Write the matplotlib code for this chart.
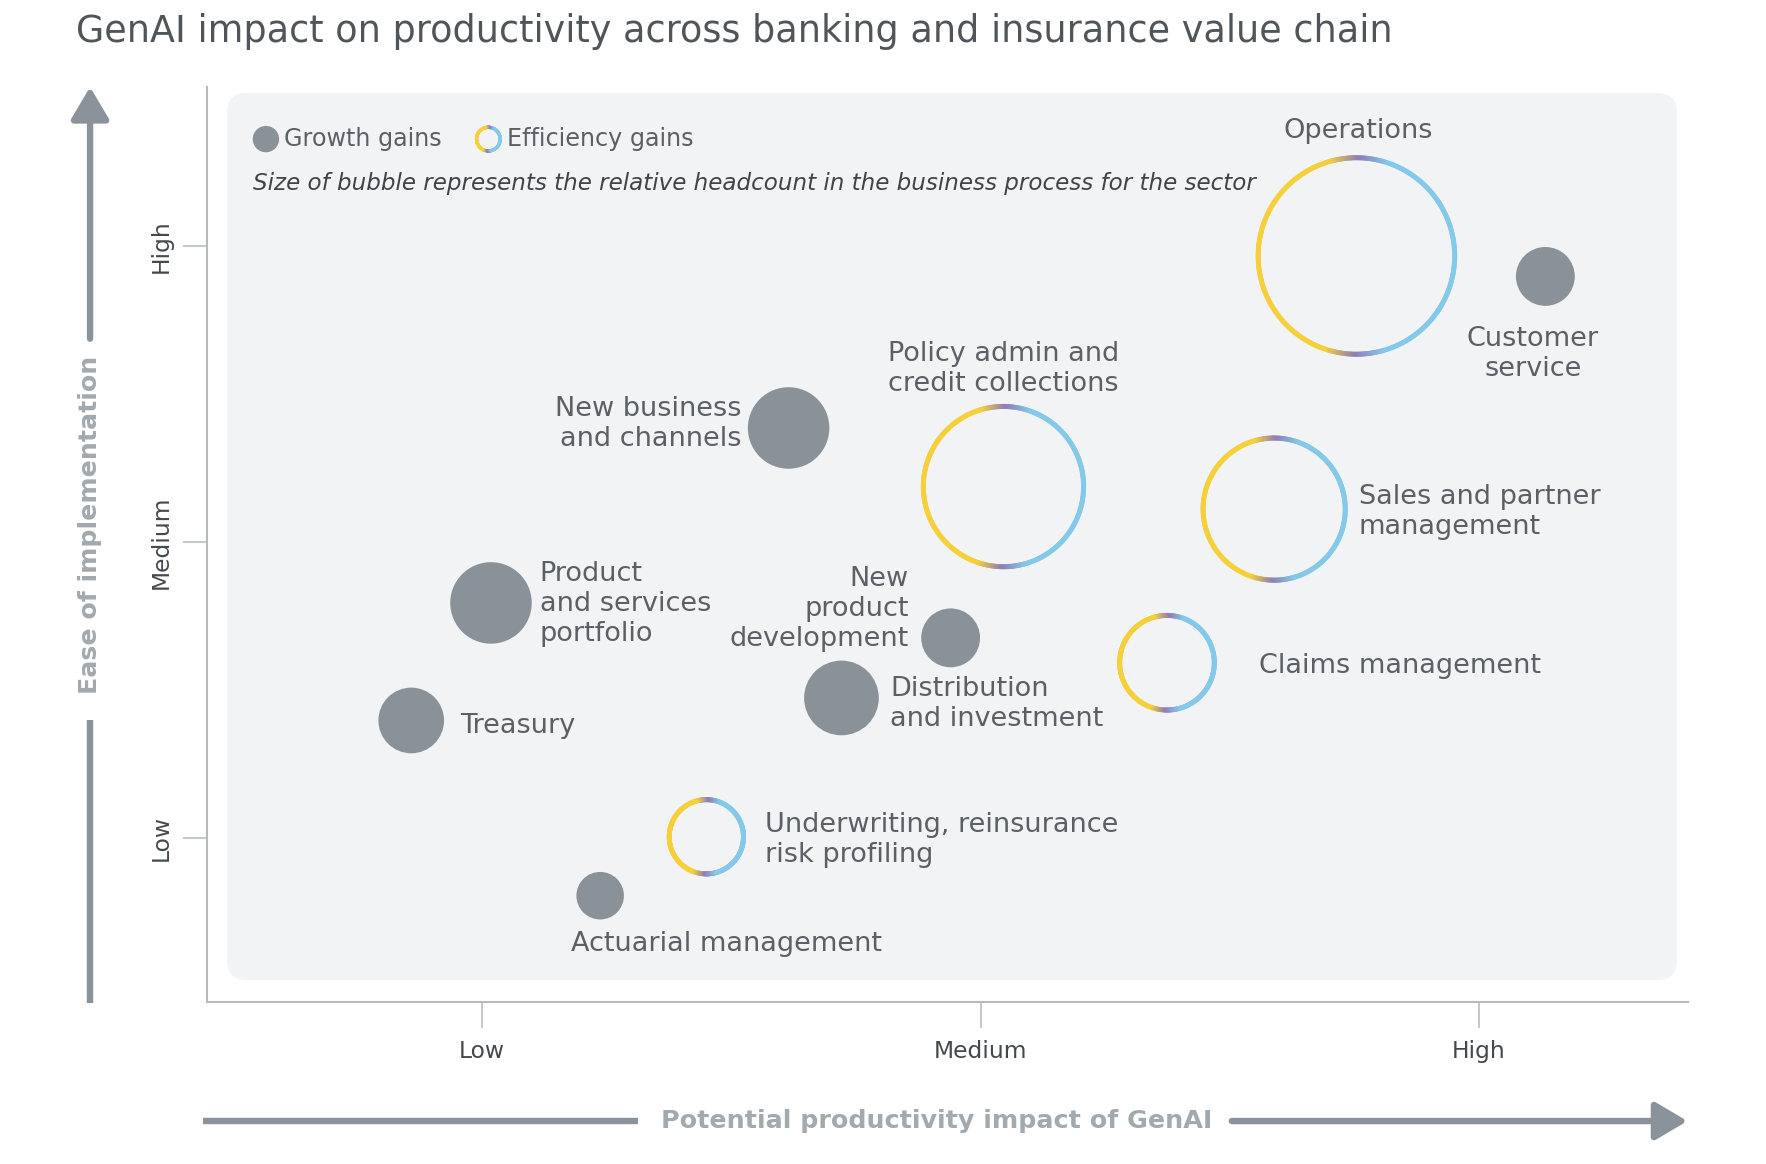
import numpy as np
import matplotlib
matplotlib.use("Agg")
import matplotlib.pyplot as plt
import matplotlib.transforms as mtransforms
from matplotlib.collections import LineCollection
from matplotlib.patches import FancyBboxPatch
from matplotlib.colors import to_rgb

# data: position on the two axes (1=Low, 2=Medium, 3=High), relative bubble size, type
processes = ["Operations", "Customer\nservice", "New business\nand channels",
             "Policy admin and\ncredit collections", "Sales and partner\nmanagement",
             "Product\nand services\nportfolio", "New\nproduct\ndevelopment",
             "Claims management", "Distribution\nand investment", "Treasury",
             "Underwriting, reinsurance\nrisk profiling", "Actuarial management"]
impact = [2.754, 3.133, 1.615, 2.046, 2.589, 1.018, 1.940, 2.374, 1.721, 0.858, 1.450, 1.237]
ease = [2.966, 2.897, 2.385, 2.187, 2.111, 1.794, 1.676, 1.592, 1.473, 1.397, 1.004, 0.805]
headcount = [89, 26, 36, 73, 65, 36, 26, 44, 33, 29, 35, 21]
gain_type = ["efficiency", "growth", "growth", "efficiency", "efficiency", "growth",
             "growth", "efficiency", "growth", "growth", "efficiency", "growth"]
tick_labels = ["Low", "Medium", "High"]

# label placement: offset from bubble centre (points), horizontal alignment
label_offsets = [(1.5, 90, "center"), (-9, -56, "center"), (-34, 3, "right"),
                 (0, 85, "center"), (61, -2, "left"), (35, -1, "left"),
                 (-30, 21, "right"), (66, -2, "left"), (35, -4.5, "left"),
                 (35, -4, "left"), (42, -2, "left"), (91, -35, "center")]

GRAY = "#8a9299"
TEXT = "#5b6066"
AXLAB = "#a2a9af"
YELLOW = to_rgb("#f5d03a")
BLUE = to_rgb("#84c8ea")
PURPLE = to_rgb("#8e7db6")

plt.rcParams["font.family"] = ["DejaVu Sans"]

fig = plt.figure(figsize=(17.66, 11.64), dpi=100)
ax_rect = [0.1172, 0.1392, 0.8386, 0.7861]
ax = fig.add_axes(ax_rect)
ax.set_xlim(0.4483, 3.419)
ax.set_ylim(0.446, 3.537)


def ring_color(theta):
    c = np.cos(theta)
    w = 0.3
    if c >= w:
        return BLUE
    if c <= -w:
        return YELLOW
    if c >= 0:
        t = c / w
        return tuple((1 - t) * np.array(PURPLE) + t * np.array(BLUE))
    t = -c / w
    return tuple((1 - t) * np.array(PURPLE) + t * np.array(YELLOW))


def ring(x, y, r_pt, lw, trans):
    th = np.linspace(0, 2 * np.pi, 241)
    pts = np.column_stack([np.cos(th), np.sin(th)]) * r_pt
    segs = np.stack([pts[:-1], pts[1:]], axis=1)
    mid = (th[:-1] + th[1:]) / 2
    cols = [ring_color(t) for t in mid]
    tr = mtransforms.Affine2D().scale(fig.dpi / 72.0) + mtransforms.ScaledTranslation(x, y, trans)
    lc = LineCollection(segs, colors=cols, linewidths=lw, transform=tr,
                        capstyle="round", zorder=3)
    ax.add_collection(lc, autolim=False)


# background panel
W_px = ax_rect[2] * 1766
H_px = ax_rect[3] * 1164
panel = FancyBboxPatch((0.0135, 0.024), 0.9791, 0.9694, transform=ax.transAxes,
                       boxstyle="round,pad=0,rounding_size=0.0135",
                       mutation_aspect=W_px / H_px,
                       facecolor="#f2f3f4", edgecolor="none", zorder=0)
ax.add_patch(panel)

pt_scale = 0.815  # relative size -> points
for i in range(len(processes)):
    r = headcount[i] * pt_scale
    if gain_type[i] == "growth":
        ax.scatter(impact[i], ease[i], s=(2 * r) ** 2, color=GRAY, edgecolors="none", zorder=3)
    else:
        ring(impact[i], ease[i], r - 1.8, 3.6, ax.transData)
    dx, dy, ha = label_offsets[i]
    ax.annotate(processes[i], (impact[i], ease[i]), xytext=(dx, dy), textcoords="offset points",
                ha=ha, va="center", multialignment=ha, fontsize=19.5, color=TEXT,
                linespacing=1.2, zorder=4)

# legend
ax.scatter(0.0398, 0.943, s=(2 * 9.5) ** 2, color=GRAY, edgecolors="none",
           transform=ax.transAxes, zorder=3)
ax.text(0.052, 0.943, "Growth gains", transform=ax.transAxes, fontsize=17.2,
        color=TEXT, va="center", ha="left")
ring(0.190, 0.943, 8.5, 2.4, ax.transAxes)
ax.text(0.2026, 0.943, "Efficiency gains", transform=ax.transAxes, fontsize=17.2,
        color=TEXT, va="center", ha="left")
ax.text(0.031, 0.894,
        "Size of bubble represents the relative headcount in the business process for the sector",
        transform=ax.transAxes, fontsize=16.6, style="italic", color="#3f4449",
        va="center", ha="left")

# axes styling
ax.set_xticks([1, 2, 3])
ax.set_xticklabels(tick_labels)
ax.set_yticks([1, 2, 3])
ax.set_yticklabels(tick_labels, rotation=90, va="center")
ax.tick_params(axis="x", length=18.5, width=1.2, color="#b8bdc1", pad=9,
               labelsize=16.8, labelcolor="#44494e")
ax.tick_params(axis="y", length=17, width=1.2, color="#b8bdc1", pad=8,
               labelsize=16.8, labelcolor="#44494e")
for s in ["top", "right"]:
    ax.spines[s].set_visible(False)
for s in ["left", "bottom"]:
    ax.spines[s].set_color("#b5babe")
    ax.spines[s].set_linewidth(1.5)

# title
fig.text(0.043, 0.9726, "GenAI impact on productivity across banking and insurance value chain",
         fontsize=26.3, color="#50555a", ha="left", va="center")

# big axis arrows
ARROW = "#8a939b"
head = dict(arrowstyle="-|>,head_length=0.49,head_width=0.29", mutation_scale=40,
            lw=4.6, color=ARROW, shrinkA=0, shrinkB=0)
yx = 0.051
fig.add_artist(plt.Line2D([yx, yx], [0.138, 0.3815], color=ARROW, lw=4.6,
                          transform=fig.transFigure, solid_capstyle="butt"))
ax.annotate("", xy=(yx, 0.9253), xytext=(yx, 0.709), xycoords="figure fraction",
            textcoords="figure fraction", annotation_clip=False, arrowprops=head)
fig.text(yx, 0.549, "Ease of implementation", rotation=90, fontsize=18.2,
         fontweight="bold", color=AXLAB, ha="center", va="center")

xy_ = 0.0369
fig.add_artist(plt.Line2D([0.115, 0.361], [xy_, xy_], color=ARROW, lw=4.6,
                          transform=fig.transFigure, solid_capstyle="butt"))
ax.annotate("", xy=(0.9555, xy_), xytext=(0.6975, xy_), xycoords="figure fraction",
            textcoords="figure fraction", annotation_clip=False, arrowprops=head)
fig.text(0.5305, xy_, "Potential productivity impact of GenAI", fontsize=18.3,
         fontweight="bold", color=AXLAB, ha="center", va="center")

fig.savefig("out.png", dpi=100, facecolor="white")
